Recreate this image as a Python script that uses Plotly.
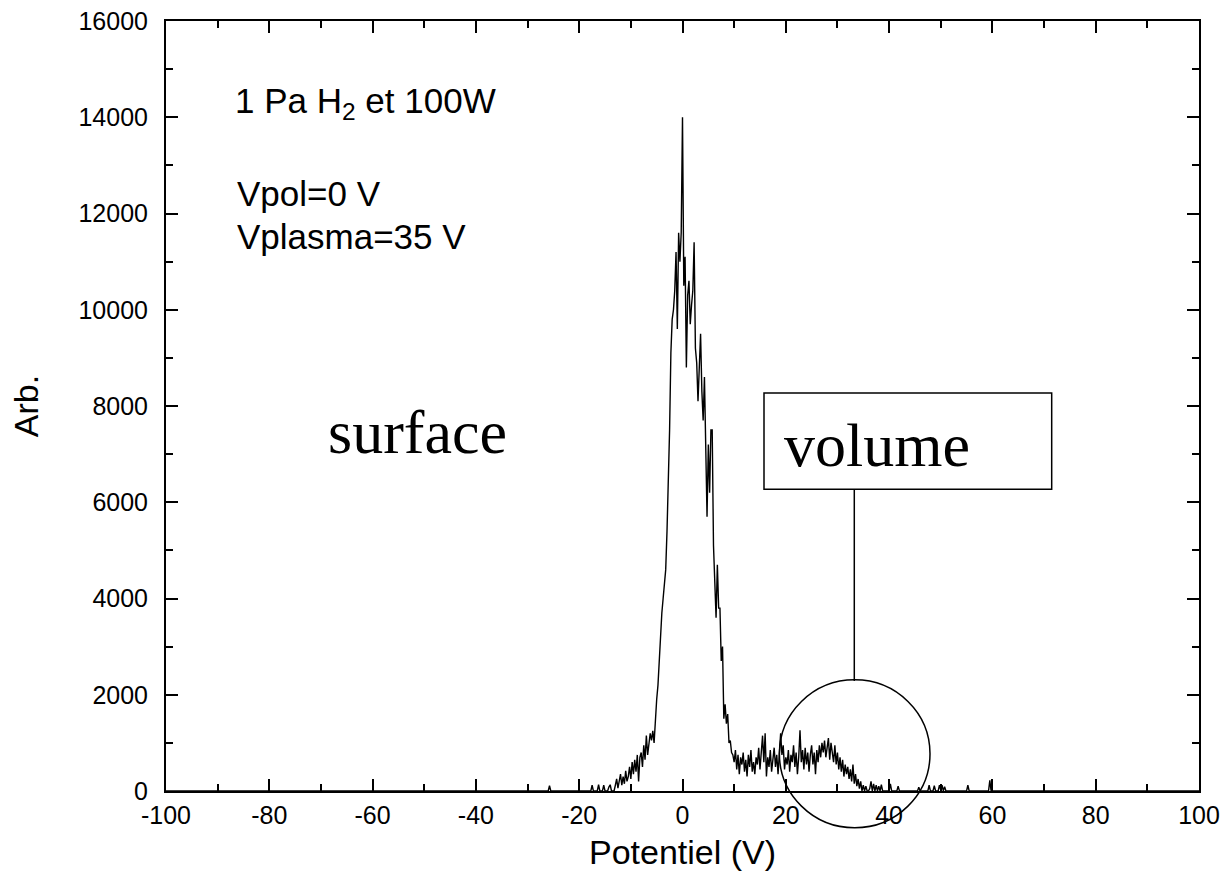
import numpy as np
import plotly.graph_objects as go

# ---------------- data ----------------
# dense part: potential from -20 V to 42 V, step 0.25 V
dense_start = -20.0
dense_step = 0.25
dense_counts = [
    0, 0, 0, 0,            # -20
    0, 0, 0, 0,            # -19
    0, 0, 120, 0,          # -18
    0, 0, 0, 130,          # -17
    0, 0, 0, 120,          # -16
    0, 0, 0, 80,           # -15
    130, 0, 0, 0,          # -14
    120, 250, 60, 200,     # -13
    350, 120, 300, 150,    # -12
    420, 200, 300, 500,    # -11
    250, 600, 350, 650,    # -10
    400, 750, 200, 700,    # -9
    800, 500, 950, 650,    # -8
    1150, 750, 1000, 1200, # -7
    1050, 1250, 1000, 1500,  # -6
    1900, 2200, 2800, 3300,  # -5
    3700, 4000, 4300, 4600,  # -4
    5400, 6300, 7500, 9100,  # -3
    9800, 10000, 10400, 11200,  # -2
    9600, 11600, 11000, 11600,  # -1
    14000, 10500, 11100, 8800,  # 0
    10300, 10600, 9700, 10100,  # 1
    10400, 11400, 9200, 8900,   # 2
    8100, 8800, 9500, 8300,     # 3
    7700, 8600, 7300, 5700,     # 4
    7200, 6200, 7500, 7500,     # 5
    5100, 4400, 3600, 4700,     # 6
    3800, 3800, 2700, 3000,     # 7
    1500, 1800, 1400, 1600,     # 8
    1000, 1050, 800, 750,       # 9
    600, 850, 450, 750,    # 10
    350, 700, 550, 800,    # 11
    400, 650, 300, 750,    # 12
    500, 850, 400, 600,    # 13
    350, 700, 550, 900,    # 14
    450, 800, 1150, 600,   # 15
    1200, 300, 700, 500,   # 16
    850, 400, 650, 900,    # 17
    500, 750, 350, 800,    # 18
    1200, 750, 950, 450,   # 19
    700, 550, 850, 400,    # 20
    750, 600, 950, 500,    # 21
    800, 350, 700, 1260,   # 22
    600, 850, 450, 900,    # 23
    550, 800, 400, 750,    # 24
    950, 550, 800, 350,    # 25
    850, 600, 950, 700,    # 26
    1000, 800, 1050, 700,  # 27
    900, 1100, 650, 1000,  # 28
    800, 600, 950, 550,    # 29
    800, 450, 700, 400,    # 30
    650, 300, 550, 350,    # 31
    500, 250, 450, 200,    # 32
    550, 150, 350, 100,    # 33
    250, 50, 200, 0,       # 34
    120, 0, 100, 0,        # 35
    0, 50, 200, 0,         # 36
    150, 0, 120, 0,        # 37
    100, 0, 130, 0,        # 38
    0, 0, 0, 0,            # 39
    0, 150, 0, 0,          # 40
    0, 0, 0, 100,          # 41
    0,                     # 42
]
left_tail_x = [-100, -26.25, -26.0, -25.75, -25.5, -20.25]
left_tail_y = [0, 0, 0, 110, 0, 0]
right_tail_x = [43, 45.5, 45.75, 46, 47.5, 47.75, 48, 48.5, 48.75, 49, 49.5, 49.75,
                50, 50.25, 50.5, 50.75, 51, 55, 55.25, 55.5, 59.25, 59.5, 59.75, 100]
right_tail_y = [0, 0, 80, 0, 0, 120, 0, 0, 110, 0, 0, 120,
                30, 120, 0, 90, 0, 0, 120, 0, 0, 220, 0, 0]

dense_x = [round(dense_start + i * dense_step, 2) for i in range(len(dense_counts))]
potential = left_tail_x + dense_x + right_tail_x
counts = left_tail_y + dense_counts + right_tail_y

x_ticks = [-100, -80, -60, -40, -20, 0, 20, 40, 60, 80, 100]
y_ticks = [0, 2000, 4000, 6000, 8000, 10000, 12000, 14000, 16000]

# ---------------- figure ----------------
fig = go.Figure()
fig.add_trace(go.Scatter(x=potential, y=counts, mode="lines",
                         line=dict(color="black", width=1.4), showlegend=False,
                         hoverinfo="skip"))

sans = "Liberation Sans, Arial, sans-serif"
serif = "Liberation Serif, Times New Roman, serif"

axis_common = dict(
    showline=True, linecolor="black", linewidth=2, mirror="allticks",
    ticks="inside", ticklen=12, tickwidth=2, tickcolor="black",
    showgrid=False, zeroline=False, automargin=False,
    tickfont=dict(family=sans, size=25, color="black"),
)

fig.update_xaxes(range=[-100, 100], tickmode="array", tickvals=x_ticks,
                 ticktext=[str(v) for v in x_ticks],
                 minor=dict(dtick=10, tick0=0, ticks="inside", ticklen=7,
                            tickwidth=2, tickcolor="black"),
                 title=dict(text="Potentiel (V)", font=dict(family=sans, size=34, color="black"),
                            standoff=12),
                 ticklabelstandoff=1,
                 **axis_common)
fig.update_yaxes(range=[0, 16000], tickmode="array", tickvals=y_ticks,
                 ticktext=[str(v) for v in y_ticks],
                 minor=dict(dtick=1000, tick0=0, ticks="inside", ticklen=7,
                            tickwidth=2, tickcolor="black"),
                 title=dict(text="Arb.", font=dict(family=sans, size=34, color="black"),
                            standoff=30),
                 ticklabelstandoff=11,
                 **axis_common)

def ann(text, x, y, size, family, yanchor="middle"):
    fig.add_annotation(text=text, x=x, y=y, xref="x", yref="y", showarrow=False,
                       xanchor="left", yanchor=yanchor,
                       font=dict(family=family, size=size, color="black"))

ann("1 Pa H<sub>2</sub> et 100W", -87.0, 14800, 35, sans, yanchor="top")
ann("Vpol=0 V", -86.6, 12415, 35, sans)
ann("Vplasma=35 V", -86.6, 11522, 35, sans)
ann("surface", -69.0, 7466, 62, serif)
ann("volume", 19.3, 7196, 62, serif)

# box around "volume", pointer line and circle (paper coordinates)
fig.add_shape(type="rect", xref="paper", yref="paper", x0=0.5789, x1=0.8574,
              y0=0.3918, y1=0.5169, line=dict(color="black", width=1.5))
fig.add_shape(type="line", xref="paper", yref="paper", x0=0.6663, x1=0.6663,
              y0=0.3918, y1=0.1429, line=dict(color="black", width=1.5))
fig.add_shape(type="circle", xref="paper", yref="paper", x0=0.5938, x1=0.7396,
              y0=-0.0478, y1=0.1444, line=dict(color="black", width=1.5))

fig.update_layout(width=1227, height=896, autosize=False,
                  margin=dict(l=166, r=28, t=21, b=105, pad=0),
                  paper_bgcolor="white", plot_bgcolor="white")

fig.write_html("out.html")
